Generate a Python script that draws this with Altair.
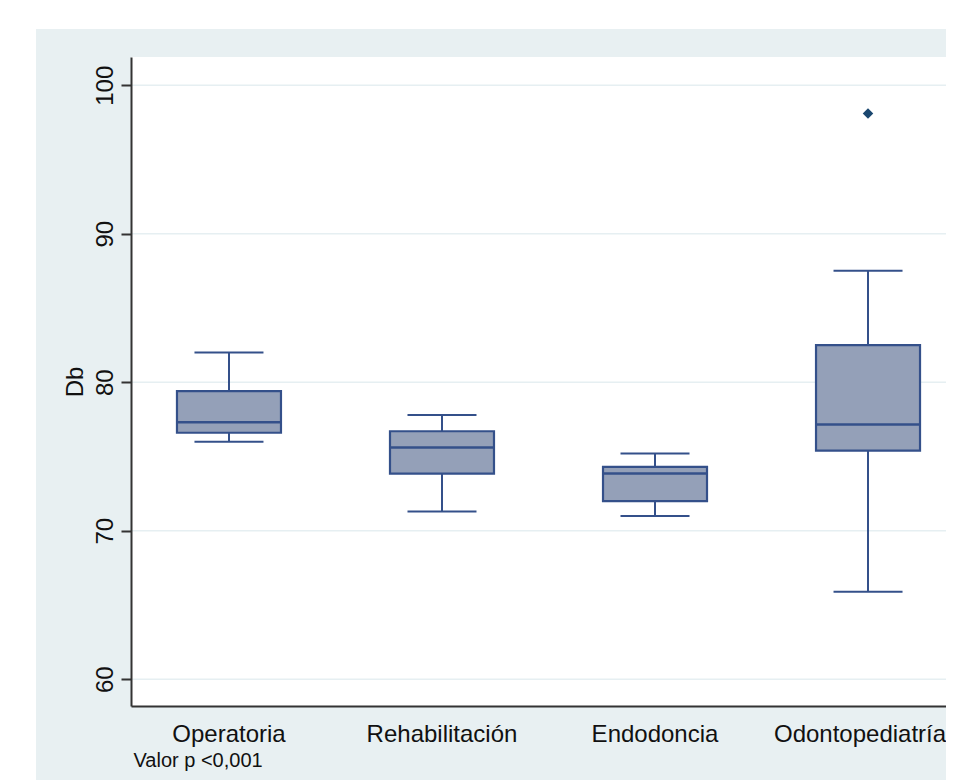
import altair as alt
import pandas as pd

# ---- data ----
categories = ["Operatoria", "Rehabilitación", "Endodoncia", "Odontopediatría"]
whisker_low = [76.0, 71.3, 71.0, 65.9]
q1 = [76.6, 73.85, 72.0, 75.4]
median = [77.3, 75.6, 73.85, 77.15]
q3 = [79.4, 76.7, 74.3, 82.5]
whisker_high = [82.0, 77.8, 75.2, 87.5]
outlier_cat = ["Odontopediatría"]
outlier_val = [98.1]
y_ticks = [60, 70, 80, 90, 100]
y_title = "Db"
note = "Valor p <0,001"

# ---- styling ----
W, H = 815, 649
PAD_L, PAD_T, PAD_B = 123, 49, 74
FONT = "Liberation Sans"
BG = "#e8f0f2"
FILL = "#94a0b8"
LINE = "#34508a"
AXIS = "#333333"

box_df = pd.DataFrame({
    "cat": categories, "wlo": whisker_low, "q1": q1,
    "med": median, "q3": q3, "whi": whisker_high,
})
out_df = pd.DataFrame({"cat": outlier_cat, "v": outlier_val})
grid_df = pd.DataFrame({"v": y_ticks})

xscale = alt.Scale(domain=categories, paddingInner=0.5, paddingOuter=0.163, align=0.644)
yscale = alt.Scale(domain=[58.2, 101.9], nice=False, zero=False)

xaxis = alt.Axis(
    title=note, titleFontSize=20, titleFontWeight="normal", titleFont=FONT,
    titleColor="#111111", titleAnchor="start", titleAlign="left", titleX=2,
    titlePadding=4, labelFont=FONT, labelFontSize=24, labelColor="#111111",
    labelPadding=16, labelAngle=0, ticks=False,
    labelOffset=alt.expr("datum.value == '" + categories[-1] + "' ? -8 : 0"),
    domainColor=AXIS, domainWidth=2, grid=False, zindex=1,
)
yaxis = alt.Axis(
    title=y_title, titleFontSize=24, titleFontWeight="normal", titleFont=FONT,
    titleColor="#111111", titlePadding=6, values=y_ticks, labelAngle=270,
    labelFont=FONT, labelFontSize=24, labelColor="#111111", labelPadding=4,
    tickSize=10, tickWidth=2, tickColor=AXIS, domainColor=AXIS,
    domainWidth=2, grid=False, zindex=1,
)


def X():
    return alt.X("cat:N", scale=xscale, axis=xaxis, sort=categories)


def Y(field):
    return alt.Y(field, type="quantitative", scale=yscale, axis=yaxis)


one = alt.Data(values=[{}])

outer_bg = alt.Chart(one).mark_rect(fill=BG).encode(
    x=alt.value(-95), x2=alt.value(W),
    y=alt.value(-28), y2=alt.value(H + PAD_B),
)
plot_bg = alt.Chart(one).mark_rect(fill="white").encode(
    x=alt.value(0), x2=alt.value(W),
    y=alt.value(0), y2=alt.value(H),
)
grid = alt.Chart(grid_df).mark_rule(color="#e6eff2", strokeWidth=1.5).encode(
    y=Y("v")
)

base = alt.Chart(box_df)
wl = base.mark_rule(color=LINE, strokeWidth=2).encode(x=X(), y=Y("wlo"), y2="q1")
wh = base.mark_rule(color=LINE, strokeWidth=2).encode(x=X(), y=Y("q3"), y2="whi")
box = base.mark_bar(size=104, fill=FILL, stroke=LINE, strokeWidth=2.2).encode(
    x=X(), y=Y("q1"), y2="q3"
)
med = base.mark_tick(size=104, thickness=2.5, color=LINE, opacity=1).encode(
    x=X(), y=Y("med")
)
cap_lo = base.mark_tick(size=69, thickness=2, color=LINE, opacity=1).encode(
    x=X(), y=Y("wlo")
)
cap_hi = base.mark_tick(size=69, thickness=2, color=LINE, opacity=1).encode(
    x=X(), y=Y("whi")
)
outl = alt.Chart(out_df).mark_point(
    shape="diamond", filled=True, size=110, color="#1a476f", opacity=1
).encode(x=X(), y=Y("v"))

chart = alt.layer(
    outer_bg, plot_bg, grid, wl, wh, box, med, cap_lo, cap_hi, outl
).properties(
    width=W, height=H,
    autosize=alt.AutoSizeParams(type="none"),
    padding={"left": PAD_L, "top": PAD_T, "right": 0, "bottom": PAD_B},
).configure(background="white").configure_view(strokeWidth=0)

chart.save("out.html", embed_options={"renderer": "svg", "actions": False})
